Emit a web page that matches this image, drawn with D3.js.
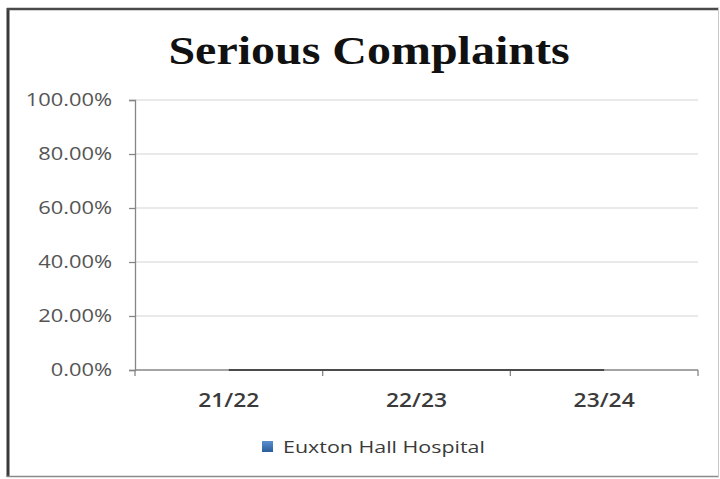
<!DOCTYPE html>
<html><head><meta charset="utf-8">
<script src="https://cdn.jsdelivr.net/npm/d3@7"></script>
<style>html,body{margin:0;padding:0;background:#fff;}svg{display:block;}</style>
</head><body>
<script>
const categories = ["21/22", "22/23", "23/24"];
const values = [0, 0, 0];
const seriesName = "Euxton Hall Hospital";
const yTicks = [0, 0.2, 0.4, 0.6, 0.8, 1.0];
const title = "Serious Complaints";

const W = 720, H = 479;
const svg = d3.select("body").append("svg").attr("width", W).attr("height", H);
svg.append("rect").attr("width", W).attr("height", H).attr("fill", "#fff");

function stretch(sel, k) {
  sel.each(function() {
    const len = this.getComputedTextLength();
    d3.select(this).attr("textLength", len * k).attr("lengthAdjust", "spacingAndGlyphs");
  });
}

// border
svg.append("line").attr("x1",8).attr("x2",8).attr("y1",8).attr("y2",477).attr("stroke","#3a3a3a").attr("stroke-width",3);
svg.append("line").attr("x1",7).attr("x2",719).attr("y1",9).attr("y2",9).attr("stroke","#4a4a4a").attr("stroke-width",2.5);
svg.append("line").attr("x1",7).attr("x2",719).attr("y1",476.5).attr("y2",476.5).attr("stroke","#8a8a8a").attr("stroke-width",1.5);
svg.append("line").attr("x1",718.5).attr("x2",718.5).attr("y1",8).attr("y2",477).attr("stroke","#c8c8c8").attr("stroke-width",1);

const L = 135, R = 698, T = 100, B = 370;
const x = d3.scaleBand().domain(categories).range([L, R]);
const y = d3.scaleLinear().domain([0, 1]).range([B, T]);

// gridlines
svg.append("g").selectAll("line").data(yTicks.filter(d => d > 0)).join("line")
  .attr("x1", L).attr("x2", R).attr("y1", d => y(d)).attr("y2", d => y(d))
  .attr("stroke", "#d4d4d4").attr("stroke-width", 1.2);

// y axis
const yAxis = d3.axisLeft(y).tickValues(yTicks).tickFormat(d3.format(".2%")).tickSize(6).tickPadding(17);
const gy = svg.append("g").attr("transform", `translate(${L},0)`).call(yAxis);
gy.select(".domain").attr("stroke", "#868686").attr("stroke-width", 1.3);
gy.selectAll(".tick line").attr("stroke", "#868686").attr("stroke-width", 1.3);
gy.selectAll("text").attr("fill", "#555").attr("font-family", "'Open Sans', sans-serif")
  .attr("font-size", 17.5).attr("text-anchor", "end").call(stretch, 1.25);

// x axis
const gx = svg.append("g").attr("transform", `translate(0,${B})`);
gx.append("line").attr("x1", L).attr("x2", R).attr("stroke", "#868686").attr("stroke-width", 1.3);
const bounds = [L].concat(categories.map(c => x(c) + x.bandwidth()));
gx.selectAll("line.tk").data(bounds).join("line").attr("class","tk")
  .attr("x1", d => d).attr("x2", d => d).attr("y1", 0).attr("y2", 6)
  .attr("stroke", "#868686").attr("stroke-width", 1.3);
gx.selectAll("text").data(categories).join("text")
  .attr("x", d => x(d) + x.bandwidth()/2).attr("y", 37)
  .attr("text-anchor", "middle").attr("fill", "#3a3a3a")
  .attr("font-family", "'Open Sans', sans-serif").attr("font-size", 19.5).attr("font-weight", 600)
  .text(d => d).call(stretch, 1.17);

// series (zero values)
const line = d3.line().x((d, i) => x(categories[i]) + x.bandwidth()/2).y(d => y(d));
svg.append("path").datum(values).attr("d", line).attr("fill", "none")
  .attr("stroke", "#4a4a4a").attr("stroke-width", 2.2);

// title
svg.append("text").attr("x", 369).attr("y", 64).attr("text-anchor", "middle")
  .attr("font-family", "'Liberation Serif', 'DejaVu Serif', serif").attr("font-weight", "bold")
  .attr("font-size", 41).attr("fill", "#111").text(title).call(stretch, 1.17);

// legend
const defs = svg.append("defs");
const grad = defs.append("linearGradient").attr("id","lg").attr("x1",0).attr("y1",0).attr("x2",0).attr("y2",1);
grad.append("stop").attr("offset","0").attr("stop-color","#5b8fd0");
grad.append("stop").attr("offset","1").attr("stop-color","#2a5d9a");
svg.append("rect").attr("x", 262).attr("y", 441).attr("width", 11).attr("height", 11).attr("fill", "url(#lg)");
svg.append("text").attr("x", 283).attr("y", 453).attr("fill", "#3a3a3a")
  .attr("font-family", "'Open Sans', sans-serif").attr("font-size", 17).text(seriesName).call(stretch, 1.26);
</script>
</body></html>
